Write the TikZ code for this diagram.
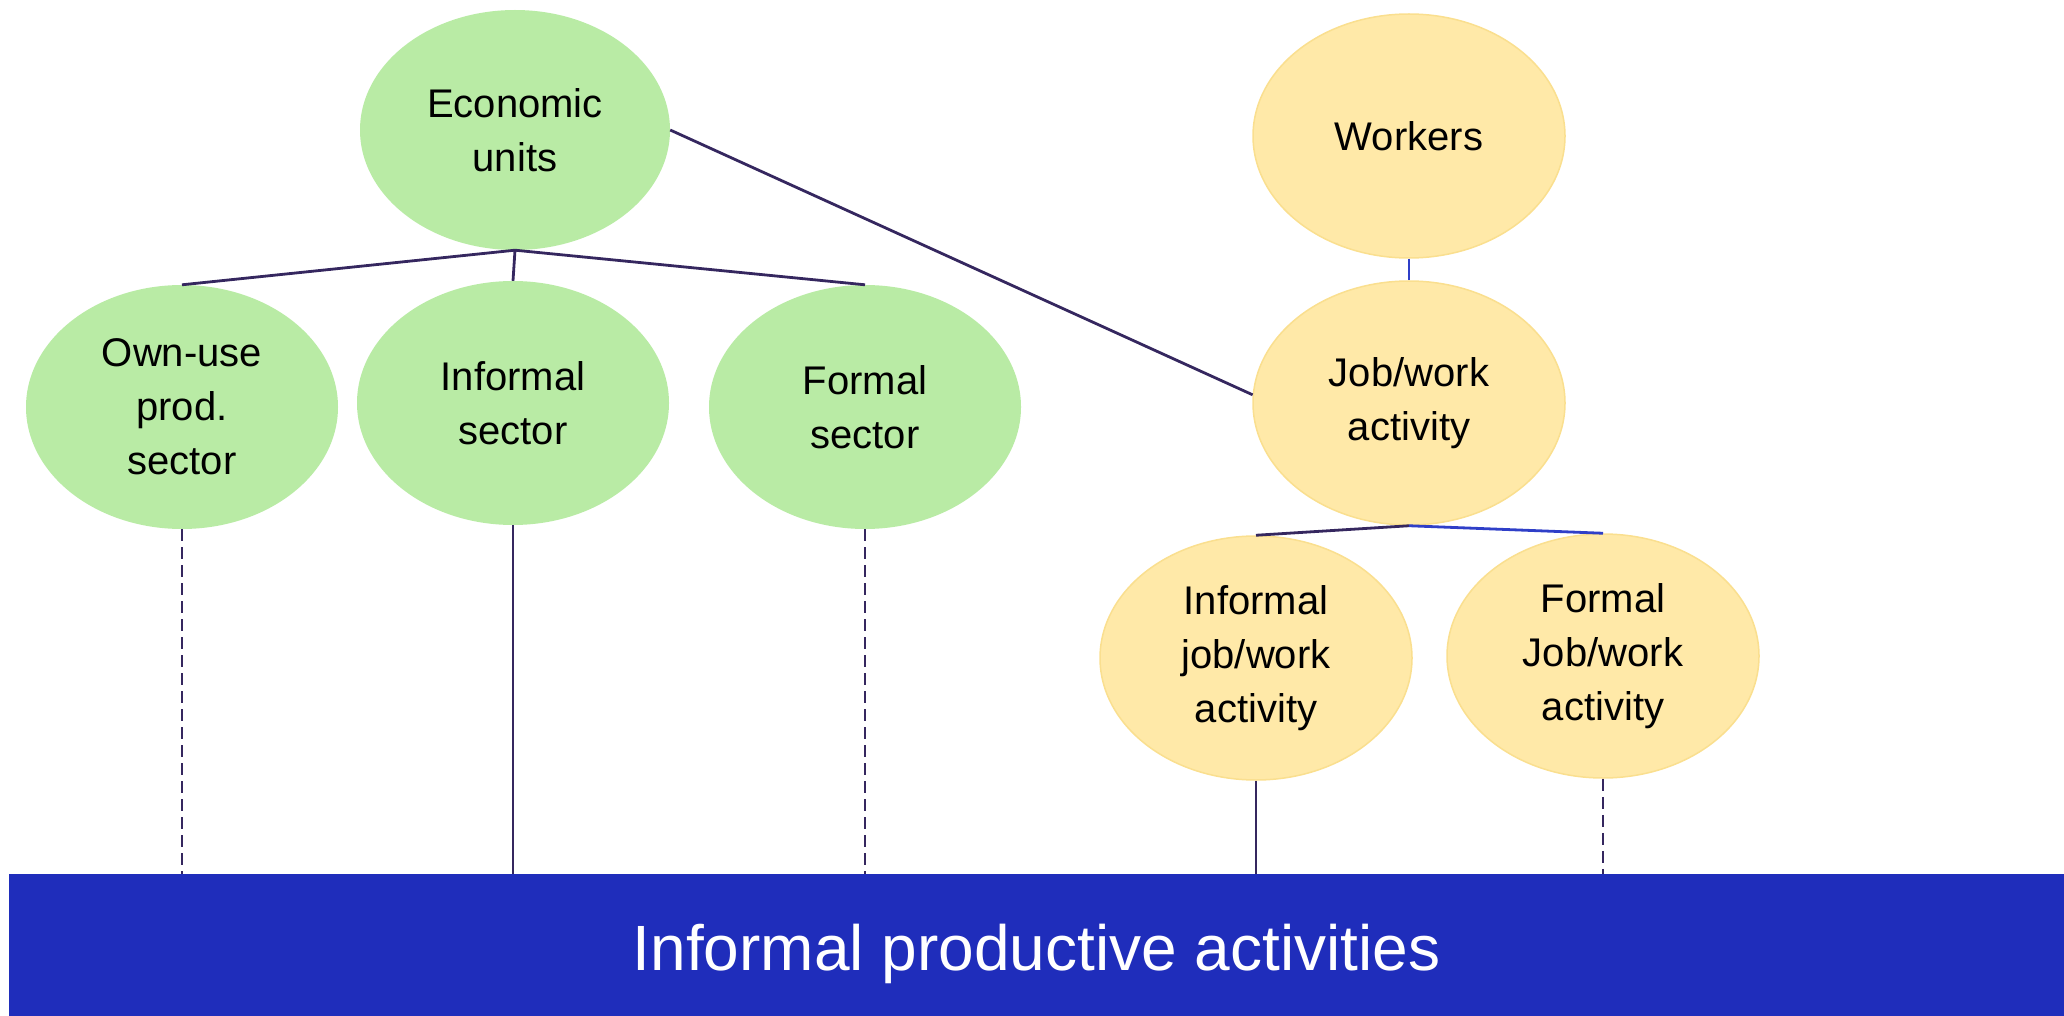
\documentclass[tikz,border=0pt]{standalone}
\usepackage{fontspec}
\setmainfont{Liberation Sans}
\usetikzlibrary{shapes.geometric}
\definecolor{gfill}{HTML}{B9EBA5}
\definecolor{yfill}{HTML}{FFE9A8}
\definecolor{ydraw}{HTML}{FADF8F}
\definecolor{barblue}{HTML}{1F2DBB}
\definecolor{linepurple}{HTML}{35275F}
\definecolor{lineblue}{HTML}{2F3FC8}
\tikzset{
  unit/.style={ellipse, fill=gfill, draw=none, minimum width=312pt, minimum height=244pt, inner sep=0pt, align=center, font=\fontsize{40}{54}\selectfont},
  work/.style={ellipse, fill=yfill, draw=ydraw, line width=1.5pt, minimum width=312pt, minimum height=244pt, inner sep=0pt, align=center, font=\fontsize{40}{54}\selectfont},
  tree/.style={draw=linepurple, line width=2.8pt},
  treeb/.style={draw=lineblue, line width=2.8pt},
  vsolid/.style={draw=linepurple, line width=1.6pt},
  vdash/.style={draw=linepurple, line width=1.6pt, dash pattern=on 12pt off 6pt},
}
\begin{document}
\begin{tikzpicture}[x=1pt,y=-1pt]
\useasboundingbox (0,0) rectangle (2064,1016);
\node[rectangle, fill=barblue, minimum width=2055pt, minimum height=142pt, inner sep=0pt, text=white, font=\fontsize{64}{70}\selectfont] (bar) at (1036.5,945) {\raisebox{-9pt}[\height][\depth]{Informal productive activities}};
\node[unit, minimum width=310pt, minimum height=240pt] (econ) at (515,130) {Economic\\units};
\node[unit] (own) at (182,407) {Own-use\\prod.\\sector};
\node[unit] (isec) at (513,403) {Informal\\sector};
\node[unit] (fsec) at (865,407) {Formal\\sector};
\node[work] (workers) at (1409,136) {Workers};
\node[work] (job) at (1409,403) {Job/work\\activity};
\node[work] (ijob) at (1256,658) {Informal\\job/work\\activity};
\node[work] (fjob) at (1603,656) {Formal\\Job/work\\activity};
\draw[tree] (econ.south) -- (own.north);
\draw[tree] (econ.south) -- (isec.north);
\draw[tree] (econ.south) -- (fsec.north);
\draw[tree] (econ.east) -- (job.177);
\draw[treeb, line width=1.6pt] (workers.south) -- (job.north);
\draw[tree] (job.south) -- (ijob.north);
\draw[treeb] (job.south) -- (fjob.north);
\draw[vdash] (own.south) -- (own.south |- bar.north);
\draw[vsolid] (isec.south) -- (isec.south |- bar.north);
\draw[vdash] (fsec.south) -- (fsec.south |- bar.north);
\draw[vsolid] (ijob.south) -- (ijob.south |- bar.north);
\draw[vdash] (fjob.south) -- (fjob.south |- bar.north);
\end{tikzpicture}
\end{document}
